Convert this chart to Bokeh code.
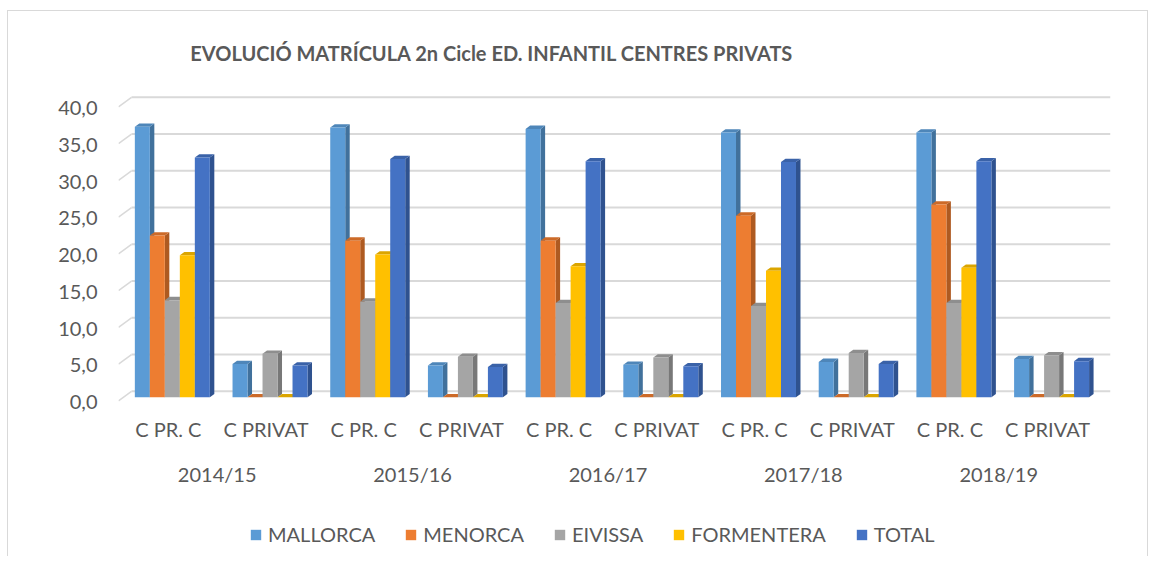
from bokeh.plotting import figure
from bokeh.layouts import column
from bokeh.models import Range1d, LinearAxis, FixedTicker, Legend, LegendItem, ColumnDataSource
from bokeh.core.properties import value
from bokeh.embed import file_html
from bokeh.resources import INLINE

# ---------------- data ----------------
title = "EVOLUCIÓ MATRÍCULA 2n Cicle ED. INFANTIL CENTRES PRIVATS"
years = ["2014/15", "2015/16", "2016/17", "2017/18", "2018/19"]
types = ["C PR. C", "C PRIVAT"]
series = ["MALLORCA", "MENORCA", "EIVISSA", "FORMENTERA", "TOTAL"]
mallorca = [36.8, 4.5, 36.7, 4.3, 36.5, 4.4, 36.0, 4.8, 36.0, 5.2]
menorca = [22.0, 0.0, 21.3, 0.0, 21.3, 0.0, 24.7, 0.0, 26.2, 0.0]
eivissa = [13.2, 5.9, 13.0, 5.5, 12.8, 5.4, 12.4, 6.0, 12.8, 5.7]
formentera = [19.3, 0.0, 19.4, 0.0, 17.8, 0.0, 17.2, 0.0, 17.6, 0.0]
total = [32.6, 4.3, 32.4, 4.1, 32.1, 4.2, 32.0, 4.5, 32.1, 4.9]
yticks = [0, 5, 10, 15, 20, 25, 30, 35, 40]

values = [mallorca, menorca, eivissa, formentera, total]
front_colors = ["#5B9BD5", "#ED7D31", "#A5A5A5", "#FFC000", "#4472C4"]
side_colors = ["#41719C", "#AE5A21", "#787878", "#BC8C00", "#2F528F"]
top_colors = ["#4E86B9", "#CC6A28", "#8E8E8E", "#DBA500", "#3A62A8"]
TXT = "#595959"
FONT = "Lato"

# ---------------- main figure ----------------
p = figure(frame_width=992, frame_height=387, output_backend="svg", toolbar_location=None,
           x_range=Range1d(-0.551, 9.603), y_range=Range1d(-1.13, 51.52),
           x_axis_type=None, y_axis_type=None,
           min_border_left=110, min_border_right=37, min_border_top=7,
           min_border_bottom=100)
p.outline_line_color = None
p.background_fill_color = "white"
p.border_fill_color = "white"

p.extra_y_ranges = {"front": Range1d(-1.13 + 0.68, 51.52 + 0.68)}
p.extra_x_ranges = {"front": Range1d(-0.551 + 0.041, 9.603 + 0.041)}

# y axis
yax = LinearAxis(y_range_name="front", ticker=FixedTicker(ticks=yticks),
                 major_label_overrides={t: f"{t:.1f}".replace(".", ",") for t in yticks})
yax.axis_line_color = None
yax.major_tick_line_color = None
yax.minor_tick_line_color = None
yax.major_tick_out = 0
yax.major_tick_in = 0
yax.major_label_standoff = 21
yax.major_label_text_font = FONT
yax.major_label_text_font_size = "20px"
yax.major_label_text_color = TXT
p.add_layout(yax, "left")

# x axes (sub category, then year)
n_slots = len(years) * len(types)
slot_ticks = list(range(n_slots))
xax1 = LinearAxis(x_range_name="front", ticker=FixedTicker(ticks=slot_ticks),
                  major_label_overrides={i: types[i % 2] for i in slot_ticks})
year_ticks = [2 * j + 0.5 for j in range(len(years))]
xax2 = LinearAxis(x_range_name="front", ticker=FixedTicker(ticks=year_ticks),
                  major_label_overrides={t: years[j] for j, t in enumerate(year_ticks)})
for ax, so in ((xax1, 11), (xax2, 18)):
    ax.axis_line_color = None
    ax.major_tick_line_color = None
    ax.minor_tick_line_color = None
    ax.major_tick_out = 0
    ax.major_tick_in = 0
    ax.major_label_standoff = so
    ax.major_label_text_font = FONT
    ax.major_label_text_font_size = "20px"
    ax.major_label_text_color = TXT
    p.add_layout(ax, "below")

# 3D-like grid (back wall lines + slanted connectors)
x_front_left = -0.551
x_back_left = -0.418
x_right = 9.603
p.segment(x0=[x_back_left] * len(yticks), y0=[t + 0.8 for t in yticks],
          x1=[x_right] * len(yticks), y1=[t + 0.8 for t in yticks],
          line_color="#d9d9d9", line_width=2)
p.segment(x0=[x_front_left] * len(yticks), y0=[t - 0.5 for t in yticks],
          x1=[x_back_left] * len(yticks), y1=[t + 0.8 for t in yticks],
          line_color="#d9d9d9", line_width=1.5)

# title
p.text(x=[3.272], y=[46.8], text=[title], text_align="center", text_baseline="middle",
       text_font=value(FONT), text_font_size="20px", text_color=TXT,
       text_font_style="bold")

# bars
bw = 0.1535
dx = 0.046
dy = 0.45
for k, vals in enumerate(values):
    cx = [i + (k - 2) * bw for i in range(n_slots)]
    side_xs, side_ys, top_xs, top_ys = [], [], [], []
    for c, v in zip(cx, vals):
        l, r = c - bw / 2, c + bw / 2
        side_xs.append([r, r + dx, r + dx, r])
        side_ys.append([0, dy, v + dy, v])
        top_xs.append([l, r, r + dx, l + dx])
        top_ys.append([v, v, v + dy, v + dy])
    p.patches(xs=side_xs, ys=side_ys, fill_color=side_colors[k], line_color=None)
    p.patches(xs=top_xs, ys=top_ys, fill_color=top_colors[k], line_color=None)
    src = ColumnDataSource(dict(x=cx, top=vals))
    p.vbar(x="x", top="top", bottom=0, width=bw, source=src,
           fill_color=front_colors[k], line_color=None)

# ---------------- legend strip ----------------
lf = figure(width=1139, height=51, output_backend="svg", toolbar_location=None,
            x_range=Range1d(0, 1), y_range=Range1d(0, 1),
            x_axis_type=None, y_axis_type=None, min_border=0)
lf.outline_line_color = None
lf.background_fill_color = "white"
lf.border_fill_color = "white"
leg_renderers = []
for k, s in enumerate(series):
    # zero-height swatch renderers: only their legend glyph is visible
    rr = lf.vbar(x=[0.5], top=[0], bottom=0, width=0,
                 fill_color=front_colors[k], line_color=None)
    leg_renderers.append(rr)
legend = Legend(items=[LegendItem(label=s, renderers=[leg_renderers[k]])
                       for k, s in enumerate(series)],
                orientation="horizontal", location=(131, 10),
                border_line_color=None, background_fill_alpha=0,
                label_text_font=FONT, label_text_font_size="20px",
                label_text_color=TXT, glyph_width=13, glyph_height=13,
                spacing=29, label_standoff=6, padding=0, margin=0)
lf.add_layout(legend, "center")

layout = column(p, lf, spacing=0,
                styles={"margin-left": "7px", "margin-top": "10px",
                        "border-left": "1px solid #d9d9d9",
                        "border-top": "1px solid #d9d9d9",
                        "border-right": "1px solid #d9d9d9"})

open("out.html", "w").write(file_html(layout, INLINE))
